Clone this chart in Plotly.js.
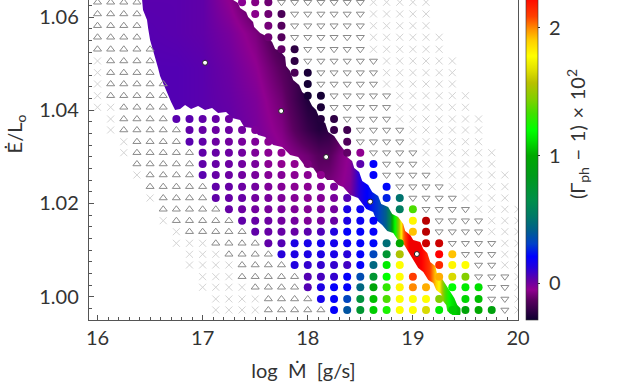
<!DOCTYPE html>
<html><head><meta charset="utf-8">
<script src="https://cdn.plot.ly/plotly-3.0.1.min.js"></script>
<style>html,body{margin:0;padding:0;background:#fff;overflow:hidden;width:628px;height:385px}
#chart{position:absolute;left:0;top:-52px;width:628px;height:437px}</style>
</head><body><div id="chart"></div>
<script>
// Grid of models: column log Mdot, row Edot/L
const colX=[16,16.125,16.25,16.375,16.5,16.625,16.75,16.875,17,17.125,17.25,17.375,17.5,17.625,17.75,17.875,18,18.125,18.25,18.375,18.5,18.625,18.75,18.875,19,19.125,19.25,19.375,19.5,19.625,19.75,19.875,20];
const rowY=[1.06318,1.06067,1.05815,1.05567,1.05309,1.05058,1.04807,1.04564,1.04313,1.04064,1.03813,1.03577,1.03326,1.03090,1.02848,1.02612,1.02361,1.02118,1.01876,1.01631,1.01395,1.01146,1.00910,1.00680,1.00429,1.00202,0.99951,0.99715];
// runs per row: A = triangle up, V = triangle down, x = cross, o = coloured circle, . = nothing
const gridRuns=[
"4A 7. 3o 7V 5x","4A 8. 3o 6V 5x","4A 9. 2o 6V 5x","4A 9. 2o 6V 6x","5A 9. 2o 5V 6x",
"1x 4A 10. 1o 6V 6x","1x 4A 10. 2o 5V 6x","1x 5A 10. 1o 5V 6x","1x 5A 10. 2o 5V 6x","2x 4A 11. 1o 5V 6x",
"1. 1x 4A 5o 6. 2o 4V 7x","1. 1x 5A 6o 5. 2o 4V 6x","2. 1x 4A 7o 5. 1o 4V 6x","2. 1x 5A 7o 4. 2o 4V 6x",
"3. 5A 9o 3. 2o 3V 6x","3. 1x 4A 10o 3. 1o 4V 6x","4. 5A 10o 3. 1o 4V 5x","4. 1x 4A 11o 2. 2o 4V 4x",
"5. 5A 11o 2. 2o 4V 4x","5. 1x 5A 11o 2. 2o 4V 3x","6. 1x 5A 10o 2. 2o 4V 3x","6. 3x 4A 11o 1. 2o 4V 2x",
"7. 3x 4A 10o 2. 2o 3V 2x","7. 4x 4A 9o 2. 3o 2V 2x","8. 3x 5A 9o 1. 3o 3V 1x","8. 4x 4A 10o 1. 3o 2V 1x",
"9. 4x 4A 10o 1. 2o 2V 1x","9. 4x 5A 13o 1V 1x"
];
// colour value of the circles, row by row, in reading order
const circleValues=[
[-0.04,-0.07,-0.1],
[-0.06,-0.1,-0.16],
[-0.09,-0.14],
[-0.1,-0.14],
[-0.12,-0.22],
[-0.22],
[-0.16,-0.26],
[-0.27],
[-0.27,-0.27],
[-0.26],
[0.04,0.04,0.03,0.02,0.01,-0.24,-0.22],
[0.03,0.02,0.01,0.01,0,-0.02,-0.2,-0.18],
[0.04,0.03,0.01,0,-0.01,-0.02,-0.04,-0.15],
[0.03,0.02,0.01,0,-0.02,-0.04,-0.05,-0.12,-0.05],
[0.03,0.02,0.01,0,-0.01,-0.04,-0.05,-0.05,-0.08,0.04,0.2],
[0.04,0.02,0.01,0,-0.01,-0.03,-0.03,-0.04,-0.04,-0.05,0.2],
[0.03,0.02,0.01,0,-0.02,-0.03,-0.04,-0.04,-0.03,-0.02,0.22],
[0.03,0.02,0.02,0,-0.01,-0.02,-0.03,-0.04,-0.03,-0.01,0.05,0.26,0.5],
[0.02,0.01,0,-0.01,-0.01,-0.02,-0.03,-0.02,0,0.15,0.18,0.55,1.35],
[0.03,0.02,0.01,0,0,-0.02,-0.01,0.02,0.14,0.18,0.2,1.8,2.45],
[0.03,0.02,0.02,0.02,0.04,0.06,0.13,0.2,0.2,0.2,1.92,2.45],
[0.03,0.05,0.14,0.15,0.16,0.16,0.18,0.2,0.22,0.48,1.0,2.4,2.4],
[0.12,0.14,0.14,0.14,0.15,0.12,0.2,0.33,0.75,1.55,2.25,1.92],
[0.13,0.1,0.1,0.1,0.08,0.2,0.45,1.15,1.78,2.15,1.8,1.78],
[0.05,0.07,0.1,0.2,0.35,0.75,1.2,1.78,2.1,1.95,1.65,1.45],
[0.05,0.14,0.2,0.2,0.45,0.95,1.3,1.8,2.0,1.95,1.2,1.15,1.12],
[0.16,0.2,0.33,0.7,1.05,1.35,1.78,1.78,1.78,1.45,1.1,1.05],
[0.2,0.38,0.75,1.08,1.25,1.78,1.78,1.65,1.15,1.08,0.95,1.0,0.92]
];
// continuous high-resolution band
const bandColsX=[16.25,16.75,17,17.25,17.5,17.75,18,18.1,18.2,18.3,18.4,18.47,18.55,18.66,18.74,18.78,18.81,18.86,18.9,18.97,19.05,19.16,19.24,19.29,19.36,19.42];
const bandRowsY=[1.075,1.0637,1.0566,1.0493,1.0422,1.0358,1.0304,1.0251,1.0197,0.995];
const bandTail=[0.1,0.2,0.3,0.42,0.6,1.05,1.5,2.0,2.3,2.3,2.1,1.8,1.4,1.15,1.05];
const bandHeads=[
[0.04,0.04,0.03,-0.05,-0.17,-0.22,-0.25,-0.25,-0.25,-0.25,-0.25],
[0.04,0.04,0.03,-0.05,-0.17,-0.22,-0.25,-0.25,-0.25,-0.25,-0.25],
[0.05,0.04,0.03,-0.01,-0.08,-0.2,-0.25,-0.25,-0.25,-0.25,-0.25],
[0.05,0.05,0.04,0.01,-0.045,-0.14,-0.24,-0.26,-0.26,-0.26,-0.26],
[0.05,0.05,0.04,0.02,-0.02,-0.1,-0.25,-0.26,-0.26,-0.26,-0.26],
[0.05,0.05,0.04,0.03,-0.01,-0.07,-0.2,-0.24,-0.22,-0.15,-0.1],
[0.05,0.05,0.04,0.03,0.01,-0.04,-0.1,-0.14,-0.14,-0.08,-0.04],
[0.05,0.05,0.04,0.03,0.01,-0.02,-0.06,-0.1,-0.09,-0.06,-0.03],
[0.05,0.05,0.04,0.03,0.01,-0.01,-0.05,-0.06,-0.05,-0.03,0],
[0.05,0.05,0.04,0.03,0.01,-0.01,-0.05,-0.06,-0.05,-0.03,0]
];
// outline of the band
const bandEdgeX=[16.328,17.119,17.29,17.337,17.356,17.414,17.433,17.48,17.49,17.547,17.604,17.661,17.69,17.737,17.785,17.794,17.832,17.861,17.918,17.947,17.994,18.042,18.08,18.118,18.166,18.194,18.251,18.308,18.346,18.375,18.422,18.442,18.489,18.518,18.575,18.613,18.67,18.699,18.765,18.803,18.86,18.908,18.927,18.975,19.003,19.07,19.099,19.137,19.165,19.213,19.232,19.279,19.327,19.356,19.394,19.422,19.47,19.451,19.375,19.327,19.317,19.279,19.27,19.222,19.194,19.146,19.099,19.051,18.994,18.965,18.918,18.87,18.813,18.756,18.708,18.651,18.622,18.556,18.479,18.404,18.337,18.289,18.242,18.185,18.147,18.09,18.052,17.975,17.909,17.832,17.756,17.671,17.595,17.528,17.471,17.395,17.356,17.28,17.223,17.147,17.09,17.023,16.957,16.89,16.833,16.786,16.738,16.7,16.643,16.595,16.576,16.528,16.5,16.481,16.471,16.433,16.424,16.328];
const bandEdgeY=[1.07547,1.07547,1.06367,1.06303,1.06195,1.0611,1.06002,1.05895,1.05788,1.05659,1.05594,1.05466,1.05315,1.05273,1.05144,1.04951,1.04843,1.0465,1.04543,1.04393,1.04307,1.04092,1.04006,1.03792,1.03727,1.03534,1.03448,1.03255,1.03148,1.02998,1.02912,1.02762,1.02676,1.02483,1.02397,1.02247,1.02161,1.01989,1.01925,1.01775,1.0171,1.0156,1.0141,1.01324,1.01217,1.01174,1.01023,1.00938,1.00745,1.00659,1.00466,1.0038,1.00208,1.00079,0.99972,0.99822,0.99714,0.99607,0.99607,0.99693,0.99822,0.99929,1.00058,1.00144,1.00294,1.00358,1.0053,1.00616,1.0083,1.00938,1.01109,1.01174,1.01367,1.0141,1.01539,1.01646,1.01818,1.01882,1.02118,1.02182,1.02354,1.02397,1.02504,1.02504,1.0259,1.02633,1.02762,1.02805,1.02998,1.03041,1.03212,1.03255,1.03427,1.0347,1.0362,1.03642,1.03792,1.03835,1.03963,1.03942,1.04049,1.04006,1.04092,1.04028,1.04114,1.04028,1.04006,1.04178,1.045,1.04736,1.04908,1.05294,1.05509,1.05766,1.05938,1.06152,1.06367,1.07547];
const maskCornerX=[15.99,15.99,19.6,19.6,15.99];
const maskCornerY=[1.09,0.98,0.98,1.09,1.09];
// highlighted models
const starX=[17.023,17.747,18.175,18.594,19.038];
const starY=[1.0502,1.03985,1.02998,1.02039,1.00916];
// colour bar
const cMin=-0.287,cMax=2.626;
const cbTickVals=[0,1,2];
const cbTickText=['\u00a00','\u00a01','\u00a02'];
const cbValues=[-0.287,-0.13,-0.05,0.03,0.13,0.21,0.31,0.42,0.52,0.65,0.84,1.0,1.12,1.2,1.33,1.44,1.57,1.67,1.78,1.9,1.98,2.09,2.25,2.35,2.45,2.626];
const cbColors=['#0d0030','#5a0060','#900090','#6000a8','#2000e0','#0000ff','#0040c8','#00608a','#007868','#008f4a','#009a1a','#00a800','#00e000','#00ff00','#40e000','#80d000','#b8c000','#e0e000','#ffff00','#ffd000','#ff9900','#ff4000','#ff0000','#e00000','#b80000','#c00000'];
const colorscale=cbValues.map((v,i)=>[(v-cMin)/(cMax-cMin),cbColors[i]]);

const xs={x:[],y:[]},up={x:[],y:[]},down={x:[],y:[]},circ={x:[],y:[],c:[]};
gridRuns.forEach((s,r)=>{let c=0,k=0;s.split(' ').forEach(run=>{
  const n=parseInt(run),ch=run.slice(-1);
  for(let i=0;i<n;i++,c++){
    if(ch==='x'){xs.x.push(colX[c]);xs.y.push(rowY[r]);}
    if(ch==='A'){up.x.push(colX[c]);up.y.push(rowY[r]);}
    if(ch==='V'){down.x.push(colX[c]);down.y.push(rowY[r]);}
    if(ch==='o'){circ.x.push(colX[c]);circ.y.push(rowY[r]);circ.c.push(circleValues[r][k++]);}
  }
});});
const font='Lato, "Open Sans", sans-serif',ink='#333',spine='#555';
const data=[
 {type:'heatmap',x:bandColsX,y:bandRowsY,z:bandHeads.map(h=>h.concat(bandTail)),zsmooth:'best',coloraxis:'coloraxis',hoverinfo:'skip'},
 {type:'scatter',mode:'lines',x:maskCornerX.concat(bandEdgeX,[maskCornerX[0]]),y:maskCornerY.concat(bandEdgeY,[maskCornerY[0]]),fill:'toself',fillcolor:'#fff',line:{width:0,color:'rgba(0,0,0,0)'},hoverinfo:'skip'},
 {type:'scatter',mode:'markers',x:xs.x,y:xs.y,marker:{symbol:'x-thin-open',size:7,color:'#d4d4d4',line:{color:'#d4d4d4',width:1}}},
 {type:'scatter',mode:'markers',x:up.x,y:up.y,marker:{symbol:'triangle-up-open',size:7,color:'#8a8a8a',line:{color:'#8a8a8a',width:1}}},
 {type:'scatter',mode:'markers',x:down.x,y:down.y,marker:{symbol:'triangle-down-open',size:7,color:'#8a8a8a',line:{color:'#8a8a8a',width:1}}},
 {type:'scatter',mode:'markers',x:circ.x,y:circ.y,marker:{symbol:'circle',size:8,color:circ.c,coloraxis:'coloraxis'}},
 {type:'scatter',mode:'markers',x:starX,y:starY,marker:{symbol:'circle',size:5,color:'#fff',line:{color:'#222',width:1}}}
];
const layout={
 width:628,height:437,margin:{l:89,r:110,t:0,b:65,pad:0},showlegend:false,paper_bgcolor:'#fff',plot_bgcolor:'#fff',
 font:{family:font,size:20,color:ink},
 xaxis:{range:[15.919,20.0],dtick:1,tick0:16,ticks:'inside',ticklen:5,tickwidth:1,tickcolor:spine,showgrid:false,zeroline:false,showline:true,linecolor:spine,linewidth:1.2,mirror:true,
  minor:{dtick:0.1,tick0:16,ticks:'inside',ticklen:3,tickwidth:1,tickcolor:spine,showgrid:false},title:{text:'log  Ṁ  [g/s]',font:{size:20,color:ink},standoff:15},automargin:false},
 yaxis:{range:[0.995,1.07482],dtick:0.02,tick0:1,tickformat:'.2f',ticklabelstandoff:5,ticks:'inside',ticklen:5,tickwidth:1,tickcolor:spine,showgrid:false,zeroline:false,showline:true,linecolor:spine,linewidth:1.2,mirror:true,
  minor:{dtick:0.0025,tick0:1,ticks:'inside',ticklen:3,tickwidth:1,tickcolor:spine,showgrid:false},title:{text:'Ė/L<sub>o</sub>',font:{size:20,color:ink},standoff:11},automargin:false},
 coloraxis:{cmin:cMin,cmax:cMax,colorscale:colorscale,showscale:true,colorbar:{
   x:1.0186,xanchor:'left',xpad:0,y:0.5,yanchor:'middle',ypad:0,len:1,thickness:12,outlinewidth:0.6,outlinecolor:'#333',
   tickmode:'array',tickvals:cbTickVals,ticktext:cbTickText,ticks:'outside',ticklen:2,tickcolor:'#333',tickfont:{family:font,size:20,color:ink},
   title:{text:'(Γ<sub>ph</sub>\u2004−\u20041)\u2004×\u200410<sup>2</sup>',side:'right',font:{family:font,size:20,color:ink}}}}
};
Plotly.newPlot('chart',data,layout,{displayModeBar:false,staticPlot:true});
</script></body></html>
